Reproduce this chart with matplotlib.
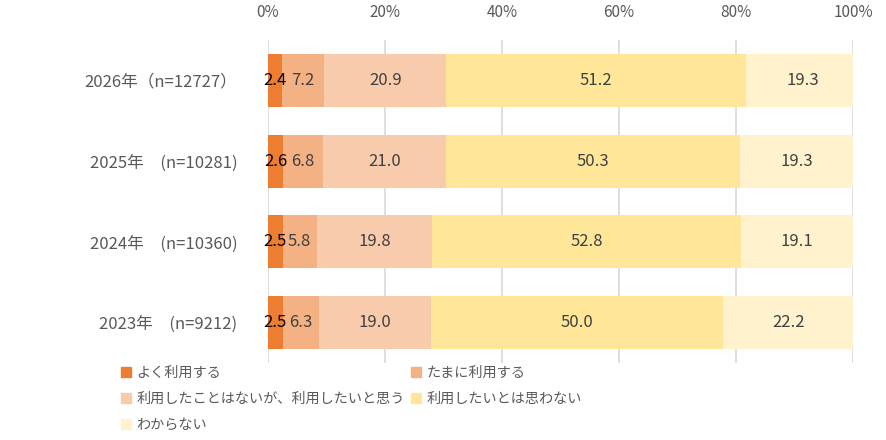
import matplotlib.pyplot as plt
from matplotlib.patches import Patch

plt.rcParams['font.family'] = ['Noto Sans CJK JP', 'DejaVu Sans']

years = ["2026年（n=12727）", "2025年　(n=10281)", "2024年　(n=10360)", "2023年　(n=9212)"]
categories = ["よく利用する", "たまに利用する", "利用したことはないが、利用したいと思う",
              "利用したいとは思わない", "わからない"]
often = [2.4, 2.6, 2.5, 2.5]
sometimes = [7.2, 6.8, 5.8, 6.3]
want_to = [20.9, 21.0, 19.8, 19.0]
dont_want = [51.2, 50.3, 52.8, 50.0]
unknown = [19.3, 19.3, 19.1, 22.2]
series = [often, sometimes, want_to, dont_want, unknown]
colors = ["#ED7D31", "#F4B183", "#F8CBAD", "#FFE699", "#FFF2CC"]
text_colors = ["#000000", "#404040", "#404040", "#404040", "#404040"]

fig = plt.figure(figsize=(8.86, 4.40), dpi=100)
ax = fig.add_axes([268 / 886, 1 - 363 / 440, 585 / 886, 323 / 440])

ypos = list(range(len(years)))
left = [0.0] * len(years)
for vals, col, tcol in zip(series, colors, text_colors):
    ax.barh(ypos, vals, left=left, height=0.655, color=col, zorder=2)
    for i, v in enumerate(vals):
        ax.text(left[i] + v / 2, ypos[i], f"{v:.1f}", ha="center", va="center",
                fontsize=12, color=tcol, zorder=3)
    left = [l + v for l, v in zip(left, vals)]

ax.set_xlim(0, 100)
ax.set_ylim(len(years) - 0.5, -0.5)
ax.set_yticks(ypos)
ax.set_yticklabels(years, fontsize=12, color="#595959")
ax.set_xticks([0, 20, 40, 60, 80, 100])
ax.set_xticklabels(["0%", "20%", "40%", "60%", "80%", "100%"], fontsize=11, color="#595959")
ax.xaxis.tick_top()
ax.tick_params(axis="y", length=0, pad=22)
ax.tick_params(axis="x", length=0, pad=14)
ax.grid(axis="x", color="#D9D9D9", linewidth=1.2, zorder=0)
for s in ax.spines.values():
    s.set_visible(False)

handles = [Patch(color=c, label=l) for c, l in zip(colors, categories)]
order = [0, 2, 4, 1, 3]
fig.legend([handles[i] for i in order], [categories[i] for i in order],
           loc="upper left", bbox_to_anchor=(121 / 886, 1 - 366 / 440), ncol=2,
           frameon=False, fontsize=10.2, handlelength=0.7, handleheight=0.7,
           handletextpad=0.4, columnspacing=0.4, labelspacing=0.85,
           labelcolor="#595959", borderaxespad=0, borderpad=0)

fig.savefig("out.png", dpi=100)
